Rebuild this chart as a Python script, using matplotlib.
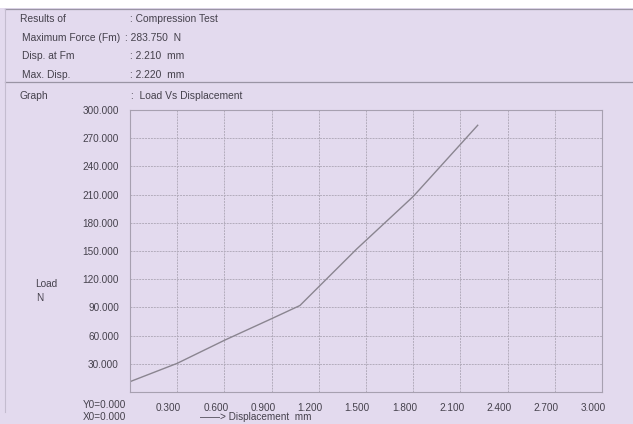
import matplotlib.pyplot as plt
from matplotlib.lines import Line2D
from matplotlib.patches import Rectangle
import matplotlib.transforms as mtransforms

plt.rcParams['font.family'] = ['Liberation Sans', 'DejaVu Sans']

# curve
disp = [0.0, 0.3, 0.6, 0.9, 1.08, 1.2, 1.44, 1.8, 2.21]
load = [11.0, 30.5, 55.0, 78.0, 92.0, 112.0, 152.0, 208.0, 283.75]

x_ticks = [0.3, 0.6, 0.9, 1.2, 1.5, 1.8, 2.1, 2.4, 2.7, 3.0]
y_ticks = [30, 60, 90, 120, 150, 180, 210, 240, 270, 300]

header_keys = ['Results of', 'Maximum Force (Fm)', 'Disp. at Fm', 'Max. Disp.']
header_vals = [': Compression Test', ': 283.750  N', ': 2.210  mm', ': 2.220  mm']

W, H = 633, 424
page = '#e3daee'
txt = '#45414c'


def px(x, y):
    return x / W, 1 - y / H


fig = plt.figure(figsize=(W / 100, H / 100), dpi=100)
fig.patch.set_facecolor(page)
# white strip at the top of the scan
fig.add_artist(Rectangle((0, 1 - 8 / H), 1, 8 / H, transform=fig.transFigure,
                         facecolor='white', edgecolor='none'))

# header box lines
for yy in (9, 82):
    fig.add_artist(Line2D([5 / W, 1], [1 - yy / H, 1 - yy / H], transform=fig.transFigure,
                          color='#9a94a4', lw=0.9))
fig.add_artist(Line2D([5 / W, 5 / W], [1 - 9 / H, 1 - 412 / H], transform=fig.transFigure,
                      color='#c4bccf', lw=0.8))

key_x = [20, 22, 22, 22]
val_x = [130, 125, 130, 130]
rows = [19, 38, 56, 75]
for k, v, kx, vx, ry in zip(header_keys, header_vals, key_x, val_x, rows):
    fig.text(*px(kx, ry), k, fontsize=7.4, color=txt, va='center', ha='left')
    fig.text(*px(vx, ry), v, fontsize=7.4, color=txt, va='center', ha='left')

fig.text(*px(20, 96), 'Graph', fontsize=7.4, color=txt, va='center')
fig.text(*px(131, 96), ':  Load Vs Displacement', fontsize=7.4, color=txt, va='center')

ax = fig.add_axes([130 / W, (H - 392) / H, 472 / W, 282 / H])
ax.set_facecolor(page)
ax.plot(disp, load, color='#8a8590', lw=1.0)
ax.set_xlim(0, 3.0)
ax.set_ylim(0, 300)
ax.set_xticks(x_ticks)
ax.set_yticks(y_ticks)
ax.set_xticklabels(['%.3f' % t for t in x_ticks])
ax.set_yticklabels(['%.3f' % t for t in y_ticks])
ax.grid(True, color='#b3acbc', lw=0.7, linestyle=(0, (2, 1)))
ax.tick_params(length=0, labelsize=7.2, labelcolor=txt, pad=8)
for s in ax.spines.values():
    s.set_color('#a7a0b0')
    s.set_linewidth(0.8)

offset = mtransforms.ScaledTranslation(4 / 100, 0, fig.dpi_scale_trans)
for lab in ax.get_xticklabels():
    lab.set_horizontalalignment('right')
    lab.set_transform(lab.get_transform() + offset)

fig.text(*px(83, 405), 'Y0=0.000', fontsize=7.2, color=txt, va='center')
fig.text(*px(83, 417), 'X0=0.000', fontsize=7.2, color=txt, va='center')
fig.text(*px(200, 417), '——> Displacement  mm', fontsize=7.2, color=txt, va='center')
fig.text(*px(35, 284), 'Load', fontsize=7.2, color=txt, va='center')
fig.text(*px(36, 298), 'N', fontsize=7.2, color=txt, va='center')

fig.savefig('out.png', dpi=100, facecolor=page)
